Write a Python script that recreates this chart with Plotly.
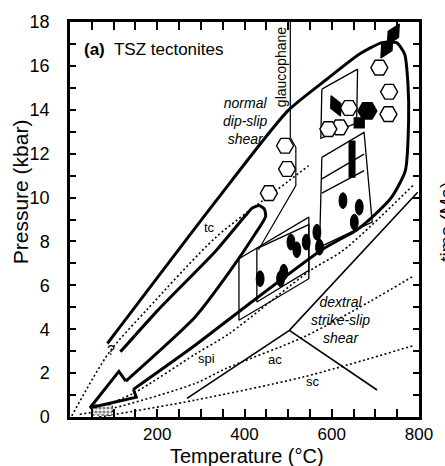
import plotly.graph_objects as go

# ---------------- data (Temperature °C, Pressure kbar) ----------------
loop_outer_T = [85.7, 335.2, 499.1, 588.5, 662.9, 715.1, 748.6, 767.2, 774.7, 776.2, 768.7, 737.4, 692.7, 655.5, 625.7, 577.3, 409.7, 286.8, 145.3]
loop_outer_P = [3.35, 9.86, 13.95, 15.39, 16.53, 17.06, 17.06, 16.53, 15.17, 13.5, 11.23, 10.02, 9.11, 8.5, 8.17, 7.62, 5.14, 3.27, 1.26]
arrow_head_T = [145.3, 152.0, 46.0, 112.0, 128.1]
arrow_head_P = [1.26, 0.9, 0.42, 2.08, 1.64]
loop_inner_T = [128.1, 286.8, 365.0, 424.6, 448.4, 445.4, 433.5, 418.6, 402.2, 335.2, 201.1, 115.5]
loop_inner_P = [1.64, 4.56, 6.6, 8.35, 9.14, 9.48, 9.64, 9.53, 9.18, 7.59, 4.86, 2.97]

glauco_T = [505, 505, 517.7, 517.7, 432]
glauco_P = [18, 12.74, 12.29, 10.55, 7.62]

tc_T = [4, 89, 175, 335, 458, 547]
tc_P = [0.05, 2.92, 4.86, 8.2, 10.1, 11.45]
spi_T = [52, 145, 287, 365, 551, 626, 786]
spi_P = [0.32, 1.08, 2.86, 3.8, 6.68, 7.59, 10.55]
ac_T = [22.3, 96.8, 286.8, 357.5, 536.3, 685.3, 789.6]
ac_P = [0.12, 0.39, 1.53, 2.21, 3.65, 5.24, 6.45]
sc_T = [67, 104, 287, 536, 790]
sc_P = [0.0, 0.12, 0.77, 1.83, 3.27]

strike_T = [268.2, 502.8, 797]
strike_P = [0.85, 3.95, 10.24]
cross_T = [502.8, 703.9]
cross_P = [3.95, 1.23]

rectA_T = [387.3, 547.5, 547.5, 387.3, 387.3]
rectA_P = [7.21, 9.11, 6.3, 4.41, 7.21]
rectB_T = [428.3, 547.5, 547.5, 428.3, 428.3]
rectB_P = [7.67, 8.77, 6.68, 5.24, 7.67]
rectC_T = [577.3, 674.1, 692.7, 572.0, 577.3]
rectC_P = [11.83, 12.97, 8.88, 7.74, 11.83]
rectC_div1_T = [577.3, 674.1]
rectC_div1_P = [10.85, 11.98]
rectC_div2_T = [577.3, 674.1]
rectC_div2_P = [10.2, 11.23]
rectD_T = [577.3, 659.2, 657.0, 575.0, 577.3]
rectD_P = [14.94, 15.85, 13.4, 12.7, 14.94]

start_box_T = [52, 97, 97, 52, 52]
start_box_P = [0.09, 0.09, 0.55, 0.55, 0.09]

hex_open_T = [493, 497.6, 455.9, 709.1, 731.5, 730.0, 639.1, 618.2, 592.2]
hex_open_P = [12.36, 11.3, 10.2, 15.92, 14.82, 13.8, 14.08, 13.2, 13.12]
hex_fill_T = [681.6]
hex_fill_P = [13.95]
sq_fill_T = [663]
sq_fill_P = [13.4]
diam_T = [741.2, 726.3]
diam_P = [17.44, 16.83]
leaf_T = [609.3]
leaf_P = [14.18]

oval_T = [506.5, 520, 541.5, 490, 482.7, 435.8, 566, 572, 625.7, 663, 651.7]
oval_P = [7.97, 7.62, 7.97, 6.6, 6.3, 6.3, 8.42, 7.74, 9.86, 9.56, 8.88]
bar_T = [646.5, 646.5]
bar_P = [10.9, 12.6]

x_tick_vals = list(range(0, 801, 50))
x_tick_labels = {200: "200", 400: "400", 600: "600", 800: "800"}
y_tick_vals = list(range(0, 19))
y_tick_labels = {v: str(v) for v in range(0, 19, 2)}

FONT = "Liberation Sans, Arial, sans-serif"
fig = go.Figure()

def line(T, P, width=1.2, dash="solid", shape="linear", smooth=None):
    d = dict(color="black", width=width, dash=dash, shape=shape)
    if smooth is not None:
        d["smoothing"] = smooth
    fig.add_trace(go.Scatter(x=T, y=P, mode="lines", line=d, hoverinfo="skip", showlegend=False))

DOT = "2px,2.5px"
line(tc_T, tc_P, 1.6, DOT, "spline", 0.8)
line(spi_T, spi_P, 1.6, DOT, "spline", 0.8)
line(ac_T, ac_P, 1.6, DOT, "spline", 0.8)
line(sc_T, sc_P, 1.6, DOT, "spline", 0.8)

# starting box with dotted pattern
fig.add_trace(go.Scatter(x=start_box_T, y=start_box_P, mode="lines", fill="toself",
                         fillcolor="white",
                         fillpattern=dict(shape=".", size=4, solidity=0.5, fgcolor="black", bgcolor="white"),
                         line=dict(color="black", width=1, dash=DOT), hoverinfo="skip", showlegend=False))

for T, P in [(rectA_T, rectA_P), (rectB_T, rectB_P), (rectC_T, rectC_P), (rectC_div1_T, rectC_div1_P),
             (rectC_div2_T, rectC_div2_P), (rectD_T, rectD_P)]:
    line(T, P, 1.3)
line(glauco_T, glauco_P, 1.2)
line(strike_T, strike_P, 1.6)
line(cross_T, cross_P, 1.6)

line(loop_outer_T, loop_outer_P, 3, "solid", "spline", 0.6)
line(arrow_head_T, arrow_head_P, 3)
line(loop_inner_T, loop_inner_P, 3, "solid", "spline", 0.6)

# black bar
line(bar_T, bar_P, 7)

def markers(T, P, symbol, size, angle=0, color="black", lw=1.3):
    fig.add_trace(go.Scatter(x=T, y=P, mode="markers",
                             marker=dict(symbol=symbol, size=size, angle=angle, color=color,
                                         line=dict(color="black", width=lw)),
                             hoverinfo="skip", showlegend=False))

markers(hex_open_T, hex_open_P, "hexagon2", 17, color="white", lw=1.4)
markers(hex_fill_T, hex_fill_P, "hexagon2", 19)
markers(sq_fill_T, sq_fill_P, "square", 10)
markers(diam_T, diam_P, "diamond-tall", 17, angle=30)
markers(leaf_T, leaf_P, "diamond-tall", 16, angle=-25)

shapes = []
for t, p in zip(oval_T, oval_P):
    shapes.append(dict(type="circle", xref="x", yref="y", x0=t - 9, x1=t + 9, y0=p - 0.36, y1=p + 0.36,
                       fillcolor="black", line=dict(color="black", width=1), layer="above"))

ann = []
def text(t, x, y, size=13, italic=False, angle=0, xref="x", yref="y", xanchor="center"):
    s = "<i>" + t + "</i>" if italic else t
    ann.append(dict(text=s, x=x, y=y, xref=xref, yref=yref, showarrow=False, textangle=angle,
                    xanchor=xanchor, yanchor="middle",
                    font=dict(family=FONT, size=size, color="black"), align="center"))

text("<b>(a)</b>  TSZ tectonites", 27, 16.75, 17, xanchor="left")
text("normal<br>dip-slip<br>shear", 402, 13.5, 14, italic=True)
text("dextral<br>strike-slip<br>shear", 621, 4.42, 14, italic=True)
text("glaucophane", 484, 15.95, 14, angle=-90)
text("tc", 320, 8.65, 13)
text("spi", 313, 2.67, 13)
text("ac", 469, 2.62, 13)
text("sc", 557, 1.6, 13)
text("?", 95, 3.05, 14)
text("Temperature (°C)", 0.508, -0.099, 20, xref="paper", yref="paper")
text("Pressure (kbar)", -0.142, 0.57, 21, angle=-90, xref="paper", yref="paper")
text("time (Ma)", 1.08, 0.494, 19, angle=-90, xref="paper", yref="paper")

fig.update_layout(
    width=445, height=466,
    margin=dict(l=70, r=17, t=22, b=49),
    paper_bgcolor="white", plot_bgcolor="white",
    font=dict(family=FONT, size=18, color="black"),
    shapes=shapes, annotations=ann,
    xaxis=dict(range=[0, 800], tickmode="array", tickvals=x_tick_vals,
               ticktext=[x_tick_labels.get(v, "") for v in x_tick_vals],
               ticks="inside", ticklen=8, tickwidth=2, tickcolor="black",
               showline=True, linewidth=2.5, linecolor="black", mirror="ticks",
               showgrid=False, zeroline=False, tickfont=dict(size=17), ticklabelstandoff=0),
    yaxis=dict(range=[0, 18], tickmode="array", tickvals=y_tick_vals,
               ticktext=[y_tick_labels.get(v, "") for v in y_tick_vals],
               ticks="inside", ticklen=6, tickwidth=2, tickcolor="black",
               showline=True, linewidth=2.5, linecolor="black", mirror="ticks",
               showgrid=False, zeroline=False, tickfont=dict(size=18), ticklabelstandoff=14),
)

fig.write_html("out.html")
